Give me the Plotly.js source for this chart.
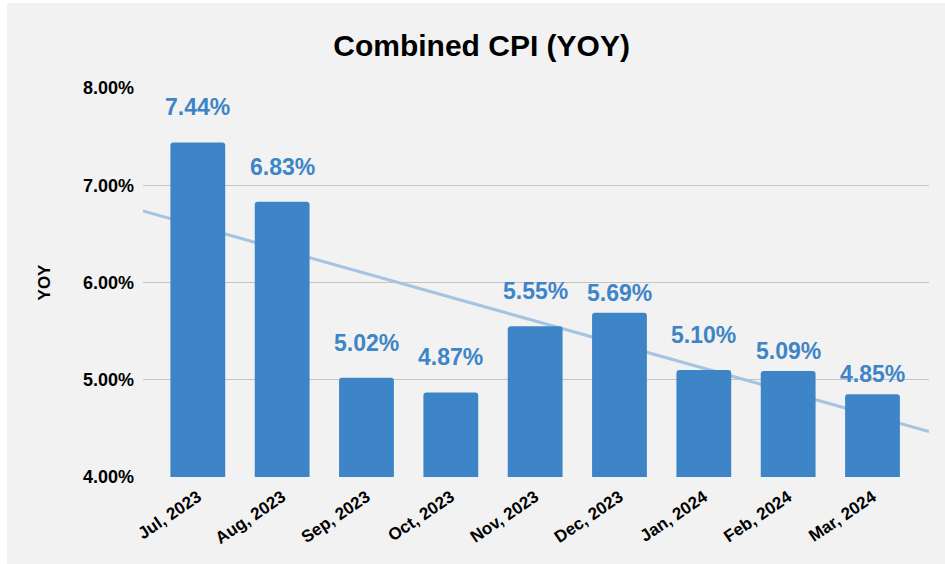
<!DOCTYPE html>
<html>
<head>
<meta charset="utf-8">
<script src="https://cdn.plot.ly/plotly-3.0.1.min.js"></script>
<style>
  html, body { margin: 0; padding: 0; background: #ffffff; }
  #chart { position: absolute; left: 7px; top: 3px; width: 938px; height: 561px; }
</style>
</head>
<body>
<div id="chart"></div>
<script>
// ---- data ----
const months = ["Jul, 2023", "Aug, 2023", "Sep, 2023", "Oct, 2023", "Nov, 2023",
                "Dec, 2023", "Jan, 2024", "Feb, 2024", "Mar, 2024"];
const yoyValues = [7.44, 6.83, 5.02, 4.87, 5.55, 5.69, 5.10, 5.09, 4.85];
const yTickValues = [4, 5, 6, 7, 8];
const yTickLabels = ["4.00%", "5.00%", "6.00%", "7.00%", "8.00%"];

// ---- style ----
const barColor = "#3d85c6";
const trendColor = "#a7c3e2";
const fontFamily = "'Liberation Sans', Arial, sans-serif";
const xRange = [-0.65, 8.67];
const labelLift = [35, 35, 35, 35, 35, 20, 35, 20, 20]; // px above bar value

const idx = months.map((_, i) => i);

// least-squares trend line
const n = yoyValues.length;
const mx = idx.reduce((a, b) => a + b, 0) / n;
const my = yoyValues.reduce((a, b) => a + b, 0) / n;
let sxy = 0, sxx = 0;
for (let i = 0; i < n; i++) { sxy += (idx[i] - mx) * (yoyValues[i] - my); sxx += (idx[i] - mx) ** 2; }
const slope = sxy / sxx;
const intercept = my - slope * mx;
const trendX = xRange.slice();
const trendY = trendX.map(x => intercept + slope * x);

const traces = [
  {
    type: "scatter", mode: "lines", x: trendX, y: trendY,
    line: { color: trendColor, width: 3 }, hoverinfo: "skip", zorder: -1, showlegend: false
  },
  {
    type: "bar", x: idx, y: yoyValues, width: 0.65,
    marker: { color: barColor, cornerradius: 3 }, zorder: 1, showlegend: false
  }
];

const annotations = yoyValues.map((v, i) => ({
  x: idx[i], y: v, xref: "x", yref: "y",
  text: v.toFixed(2) + "%", showarrow: false,
  yanchor: "middle", yshift: labelLift[i],
  font: { family: fontFamily, size: 23, color: barColor, weight: "bold" }
}));

const layout = {
  paper_bgcolor: "#f2f2f2",
  plot_bgcolor: "#f2f2f2",
  margin: { l: 136, r: 16, t: 85, b: 87 },
  title: {
    text: "<b>Combined CPI (YOY)</b>",
    font: { family: fontFamily, size: 30, color: "#000000" },
    x: 0.506, xanchor: "center", y: 0.925, yanchor: "middle"
  },
  xaxis: {
    type: "linear", range: xRange, automargin: false,
    tickvals: idx, ticktext: months.map(m => "<b>" + m + "</b>"),
    tickangle: -34, showgrid: false, zeroline: false, showline: false, ticks: "",
    tickfont: { family: fontFamily, size: 17, color: "#000000" },
    ticklabelstandoff: 6,
    fixedrange: true
  },
  yaxis: {
    range: [4, 8], automargin: false,
    tickvals: yTickValues, ticktext: yTickLabels.map(t => "<b>" + t + "</b>"),
    showgrid: true, gridcolor: "#c4c4c4", gridwidth: 1, zeroline: false, showline: false,
    ticks: "", ticklen: 0, ticklabelstandoff: 8,
    tickfont: { family: fontFamily, size: 18, color: "#000000" },
    title: { text: "<b>YOY</b>", font: { family: fontFamily, size: 17, color: "#000000" }, standoff: 28 },
    fixedrange: true
  },
  annotations: annotations,
  bargap: 0.35,
  showlegend: false
};

Plotly.newPlot("chart", traces, layout, { displayModeBar: false, staticPlot: true });
</script>
</body>
</html>
